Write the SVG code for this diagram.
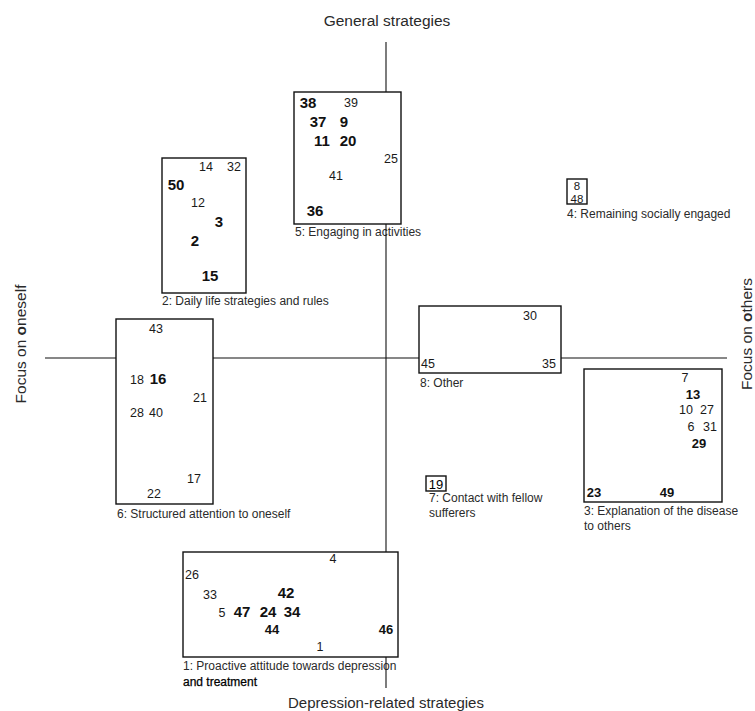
<svg xmlns="http://www.w3.org/2000/svg" width="755" height="711" viewBox="0 0 755 711">
<style>
text{font-family:"Liberation Sans",Arial,sans-serif;fill:#1a1a1a}
.n{font-size:12.5px;text-anchor:middle}
.b{font-size:15px;font-weight:bold;text-anchor:middle;fill:#111}
.lab{font-size:12px;fill:#2a2a2a}
.ax{font-size:15.5px;fill:#2a2a2a}
.box{fill:#fff;stroke:#111;stroke-width:1.4}
.axis{stroke:#111;stroke-width:1.1;fill:none}
</style>
<rect width="755" height="711" fill="#fff"/>
<g id="axis-labels">
<text class="ax" x="387" y="26" text-anchor="middle">General strategies</text>
<text class="ax" x="386" y="708" text-anchor="middle" style="font-size:15px">Depression-related strategies</text>
<text class="ax" transform="translate(26,344) rotate(-90)" text-anchor="middle">Focus on <tspan font-weight="bold">o</tspan>neself</text>
<text class="ax" transform="translate(752,334) rotate(-90)" text-anchor="middle">Focus on <tspan font-weight="bold">o</tspan>thers</text>
</g>
<g id="labels">
<text class="lab" x="295" y="236">5: Engaging in activities</text>
<text class="lab" x="162" y="305">2: Daily life strategies and rules</text>
<text class="lab" x="567" y="218">4: Remaining socially engaged</text>
<text class="lab" x="117" y="518">6: Structured attention to oneself</text>
<text class="lab" x="420" y="387">8: Other</text>
<text class="lab" x="584" y="515">3: Explanation of the disease</text>
<text class="lab" x="584" y="530">to others</text>
<text class="lab" x="429" y="502">7: Contact with fellow</text>
<text class="lab" x="429" y="517">sufferers</text>
<text class="lab" x="183" y="670">1: Proactive attitude towards depression</text>
<text class="lab" x="183" y="686" style="fill:#000;stroke:#000;stroke-width:0.25">and treatment</text>
</g>
<g id="connectors">
<line class="axis" x1="386" y1="42" x2="386" y2="688"/>
<line class="axis" x1="45" y1="358" x2="727" y2="358"/>
</g>
<g id="node5">
<rect class="box" x="294" y="92" width="107" height="132"/>
<text class="b" x="308" y="108">38</text>
<text class="n" x="351" y="107">39</text>
<text class="b" x="318" y="127">37</text>
<text class="b" x="344" y="127">9</text>
<text class="b" x="322" y="146">11</text>
<text class="b" x="348" y="146">20</text>
<text class="n" x="391" y="163">25</text>
<text class="n" x="336" y="180">41</text>
<text class="b" x="315" y="216">36</text>
</g>
<g id="node2">
<rect class="box" x="162" y="158" width="84" height="135"/>
<text class="n" x="206" y="171">14</text>
<text class="n" x="234" y="171">32</text>
<text class="b" x="176" y="190">50</text>
<text class="n" x="198" y="207">12</text>
<text class="b" x="219" y="227">3</text>
<text class="b" x="195" y="246">2</text>
<text class="b" x="210" y="281">15</text>
</g>
<g id="node4">
<rect class="box" x="567" y="179" width="20" height="25"/>
<text class="n" x="577" y="190" style="font-size:11.5px">8</text>
<text class="n" x="577" y="202.5" style="font-size:11.5px">48</text>
</g>
<g id="node6">
<rect class="box" x="116" y="319" width="97" height="185"/>
<text class="n" x="156" y="333">43</text>
<text class="n" x="137" y="384">18</text>
<text class="b" x="158" y="384">16</text>
<text class="n" x="200" y="402">21</text>
<text class="n" x="137" y="417">28</text>
<text class="n" x="156" y="417">40</text>
<text class="n" x="194" y="483">17</text>
<text class="n" x="154" y="498">22</text>
</g>
<g id="node8">
<rect class="box" x="419" y="306" width="142" height="67"/>
<text class="n" x="530" y="320">30</text>
<text class="n" x="428" y="368">45</text>
<text class="n" x="549" y="368">35</text>
</g>
<g id="node3">
<rect class="box" x="584" y="369" width="138" height="133"/>
<text class="n" x="685" y="382">7</text>
<text class="b" x="693" y="399" style="font-size:13px">13</text>
<text class="n" x="686" y="414">10</text>
<text class="n" x="707" y="414">27</text>
<text class="n" x="691" y="431">6</text>
<text class="n" x="710" y="431">31</text>
<text class="b" x="699" y="448" style="font-size:13px">29</text>
<text class="b" x="594" y="497" style="font-size:13px">23</text>
<text class="b" x="667" y="497" style="font-size:13px">49</text>
</g>
<g id="node7">
<rect class="box" x="426" y="476" width="20" height="15"/>
<text class="n" x="436" y="489" style="font-size:13px;fill:#000">19</text>
</g>
<g id="node1">
<rect class="box" x="183" y="552" width="215" height="105"/>
<text class="n" x="333" y="563">4</text>
<text class="n" x="192" y="579">26</text>
<text class="n" x="210" y="599">33</text>
<text class="b" x="286" y="598">42</text>
<text class="n" x="222" y="617">5</text>
<text class="b" x="242" y="617">47</text>
<text class="b" x="268" y="617">24</text>
<text class="b" x="292" y="617">34</text>
<text class="b" x="272" y="634" style="font-size:13px">44</text>
<text class="b" x="386" y="634" style="font-size:13px">46</text>
<text class="n" x="320" y="651">1</text>
</g>
</svg>
